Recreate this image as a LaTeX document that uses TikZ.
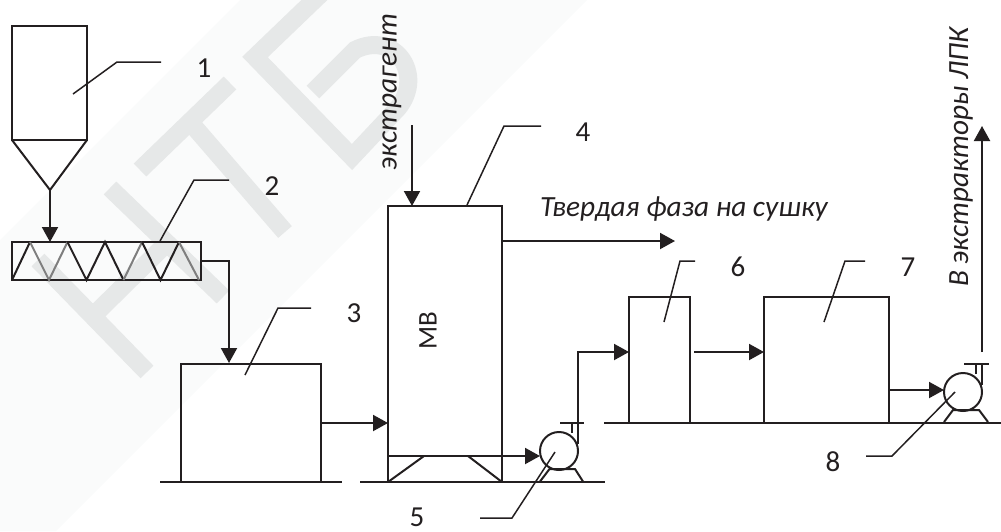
\documentclass[tikz,border=0pt]{standalone}
\usepackage{fontspec}
\setmainfont{Carlito}
\usetikzlibrary{arrows.meta}
\definecolor{ink}{HTML}{231F20}
\definecolor{wm}{HTML}{E6E8E8}
\definecolor{wmfaint}{HTML}{FAFBFB}
\definecolor{zg}{HTML}{7E7E7E}
\tikzset{
  line/.style={draw=ink,line width=2pt,line join=miter},
  lead/.style={draw=ink,line width=1.5pt},
  flow/.style={draw=ink,line width=2pt,-{Triangle[length=15pt,width=16pt,fill=ink]}},
  box/.style={draw=ink,line width=2pt,rectangle,inner sep=0pt,outer sep=0pt},
  num/.style={text=ink,font=\fontsize{29}{32}\selectfont,inner sep=0pt},
  captxt/.style={text=ink,font=\fontsize{29.3}{32}\selectfont\itshape,inner sep=0pt},
  wmstroke/.style={draw=wm,line width=18pt,line cap=butt,line join=miter}
}
\begin{document}
\begin{tikzpicture}[x=1pt,y=-1pt]
\useasboundingbox (0,0) rectangle (1001,531);
% watermark
\begin{scope}
\clip (0,0) rectangle (1001,531);
\fill[wmfaint] (0,240) -- (240,0) -- (587,0) -- (56,531) -- (0,531) -- cycle;
\path[wmstroke] (38,260) -- (147,372);
\path[wmstroke] (110,188) -- (223,297);
\path[wmstroke] (93,316) -- (167,243);
\path[wmstroke] (140,170) -- (230,83);
\path[wmstroke] (190,122) -- (285,232);
\path[wmstroke] (330,-15) -- (255,57) -- (352,157) -- (398,108) .. controls (425,75) and (395,30) .. (355,50) -- (313,92);
\end{scope}
% silo
\node[box,minimum width=75pt,minimum height=114pt] (silo) at (49.5,83) {};
\coordinate (tip) at (50,190);
\draw[line] (silo.south west) -- (tip) -- (silo.south east);
% screw
\node[box,minimum width=189pt,minimum height=38pt] (screw) at (106.5,261) {};
\draw[flow] (tip) -- (tip |- screw.north);
\draw[line] (12,280) -- (30,242);
\draw[line,draw=zg] (30,242) -- (49,280) -- (67.5,242);
\draw[line] (67.5,242) -- (86.5,280) -- (105,242) -- (123.5,280);
\draw[line,draw=zg] (123.5,280) -- (142,242);
\draw[line] (142,242) -- (160.5,280) -- (179,242);
\draw[line,draw=zg] (179,242) -- (199,280);
% tank 3, MV
\node[box,minimum width=140pt,minimum height=118pt] (tank) at (251,423) {};
\node[box,minimum width=114pt,minimum height=276pt] (mv) at (445,344) {};
\node[text=ink,font=\fontsize{27}{29}\selectfont,rotate=90,inner sep=0pt] (mvlab) at (428,331) {МВ};
\coordinate (legLa) at (424,456);
\coordinate (legRa) at (468,456);
\draw[line] (mv.south west) -- (legLa);
\draw[line] (mv.south east) -- (legRa);
\draw[flow] (screw.east |- 0,261) -- (229,261) -- (229,363);
\draw[flow] (tank.east |- 0,423) -- (mv.west |- 0,423);
% grounds
\coordinate (g1a) at (160,482); \coordinate (g1b) at (342,482);
\coordinate (g2a) at (360,482); \coordinate (g2b) at (605,482);
\coordinate (g3a) at (604,423); \coordinate (g3b) at (1001,423);
\draw[line] (g1a) -- (g1b);
\draw[line] (g2a) -- (g2b);
\draw[line] (g3a) -- (g3b);
% pump 5
\node[box,circle,minimum size=38pt] (pumpA) at (559,451) {};
\draw[line] (540,481.5) -- (549.5,469) -- (575,469) -- (583,481.5);
\draw[line] (572,423) -- (572,433);
\coordinate (flA) at (578,423);
\draw[line] (560,423) -- (584,423);
\draw[line] (578,423) -- (578,444);
\draw[flow] (mv.west |- 0,456) -- (pumpA.west |- 0,456);
% boxes 6, 7
\node[box,minimum width=61pt,minimum height=126pt] (six) at (659.5,360) {};
\node[box,minimum width=125pt,minimum height=126pt] (seven) at (826.5,360) {};
\draw[flow] (flA) -- (578,352) -- (six.west |- 0,352);
\draw[flow] (694,352) -- (seven.west |- 0,352);
% pump 8
\node[box,circle,minimum size=38pt] (pumpB) at (963,392) {};
\draw[line] (944,422) -- (953,410) -- (979,410) -- (988,422);
\draw[line] (976,364) -- (976,374);
\draw[line] (964,364) -- (989,364);
\draw[line] (982,364) -- (982,385);
\draw[flow] (seven.east |- 0,390) -- (pumpB.west |- 0,390);
\coordinate (outS) at (982,352);
\coordinate (outE) at (982,126);
\draw[flow] (outS) -- (outE);
% free arrows
\coordinate (extS) at (412,125);
\draw[flow] (extS) -- (extS |- mv.north);
\coordinate (solE) at (675,241);
\draw[flow] (mv.east |- solE) -- (solE);
% leaders
\draw[lead] (73,94) -- (117,62) -- (161,62);
\draw[lead] (160,241) -- (194,180) -- (229,180);
\draw[lead] (245,375) -- (278,308) -- (311,308);
\draw[lead] (467,205) -- (504,126) -- (541,126);
\draw[lead] (555,452) -- (512,518) -- (480,518);
\draw[lead] (664,322) -- (680,261) -- (695,261);
\draw[lead] (824,322) -- (845,261) -- (865,261);
\draw[lead] (955,392) -- (892,456) -- (866,456);
% labels
\node[num] (n1) at (204,68) {1};
\node[num] (n2) at (272,186) {2};
\node[num] (n3) at (354,313) {3};
\node[num] (n4) at (583,132) {4};
\node[num] (n5) at (417,517) {5};
\node[num] (n6) at (738,267) {6};
\node[num] (n7) at (908,267) {7};
\node[num] (n8) at (833,462) {8};
\node[captxt,anchor=west] (solid) at (540,209) {Твердая фаза на сушку};
\node[captxt,rotate=90] (ext) at (392,92) {экстрагент};
\node[captxt,rotate=90] (out) at (961,157) {В экстракторы ЛПК};
\end{tikzpicture}
\end{document}
